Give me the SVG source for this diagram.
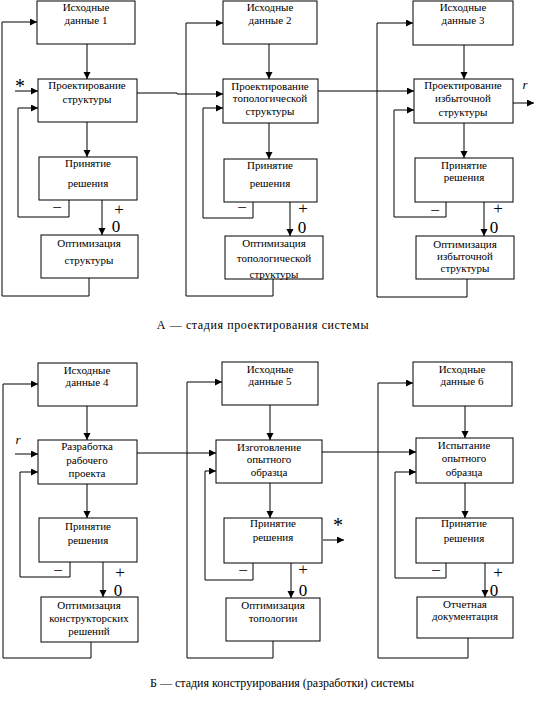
<svg xmlns="http://www.w3.org/2000/svg" width="542" height="701" viewBox="0 0 542 701">
<style>
.box{fill:#fff;stroke:#000;stroke-width:1}
.ln{fill:none;stroke:#000;stroke-width:1}
.ar{marker-end:url(#ah)}
text{font-family:"Liberation Serif","Times New Roman","DejaVu Serif",serif;fill:#000}
.t{font-size:11px;text-anchor:middle}
.s{font-size:17px;text-anchor:middle}
.z{font-size:17px;text-anchor:middle}
.st{font-size:20px;text-anchor:middle}
.cap{font-size:12px;text-anchor:middle}
.it{font-size:13px;font-style:italic;text-anchor:middle}
</style>
<defs>
<marker id="ah" markerUnits="userSpaceOnUse" markerWidth="8" markerHeight="8" refX="7" refY="3.5" orient="auto">
<path d="M0,0 L7,3.5 L0,7 z" fill="#000"/>
</marker>
</defs>
<rect width="542" height="701" fill="#fff"/>

<g id="connectors">
<path class="ln ar" d="M87,44 V79"/>
<path class="ln ar" d="M87,122 V157"/>
<path class="ln ar" d="M102,200 V235"/>
<path class="ln ar" d="M89,278 V296 H2 V22 H37"/>
<path class="ln ar" d="M69,200 V217 H18 V108 H38"/>
<path class="ln ar" d="M15,91 H38"/>
<path class="ln ar" d="M137,93 H177 V94 H223"/>
<path class="ln ar" d="M269,44 V79"/>
<path class="ln ar" d="M269,123 V159"/>
<path class="ln ar" d="M290,202 V236"/>
<path class="ln ar" d="M273,279 V296 H186 V23 H223"/>
<path class="ln ar" d="M253,202 V218 H203 V108 H223"/>
<path class="ln ar" d="M318,91 H414"/>
<path class="ln ar" d="M464,45 V79"/>
<path class="ln ar" d="M464,123 V158"/>
<path class="ln ar" d="M484,202 V236"/>
<path class="ln ar" d="M467,279 V297 H377 V23 H413"/>
<path class="ln ar" d="M446,202 V217 H394 V110 H414"/>
<path class="ln ar" d="M513,103 H534"/>
<path class="ln ar" d="M87,406 V440"/>
<path class="ln ar" d="M87,484 V518"/>
<path class="ln ar" d="M103,562 V597"/>
<path class="ln ar" d="M91,642 V658 H3 V384 H38"/>
<path class="ln ar" d="M70,562 V577 H20 V472 H38"/>
<path class="ln ar" d="M15,454 H38"/>
<path class="ln ar" d="M137,453 H216"/>
<path class="ln ar" d="M270,405 V440"/>
<path class="ln ar" d="M270,483 V518"/>
<path class="ln ar" d="M291,563 V598"/>
<path class="ln ar" d="M273,641 V658 H187 V382 H222"/>
<path class="ln ar" d="M253,563 V580 H205 V471 H216"/>
<path class="ln ar" d="M322,452 H416"/>
<path class="ln ar" d="M323,540 H344"/>
<path class="ln ar" d="M465,406 V438"/>
<path class="ln ar" d="M465,483 V518"/>
<path class="ln ar" d="M485,563 V597"/>
<path class="ln ar" d="M468,638 V658 H378 V383 H413"/>
<path class="ln ar" d="M446,563 V578 H395 V472 H416"/>
</g>

<g id="labels">
<text class="st" x="20" y="93">*</text>
<text class="s" x="57" y="213">−</text>
<text class="s" x="119" y="215">+</text>
<text class="z" x="116" y="232">0</text>
<text class="s" x="242" y="213">−</text>
<text class="s" x="303" y="214">+</text>
<text class="z" x="302" y="233">0</text>
<text class="s" x="435" y="216">−</text>
<text class="s" x="498" y="214">+</text>
<text class="z" x="494" y="233">0</text>
<text class="it" x="525" y="89">r</text>
<text class="it" x="18" y="444">r</text>
<text class="s" x="58" y="576">−</text>
<text class="s" x="120" y="578">+</text>
<text class="z" x="118" y="596">0</text>
<text class="s" x="243" y="576">−</text>
<text class="s" x="303" y="575">+</text>
<text class="z" x="303" y="596">0</text>
<text class="st" x="338" y="532">*</text>
<text class="s" x="436" y="576">−</text>
<text class="s" x="498" y="578">+</text>
<text class="z" x="494" y="596">0</text>
</g>

<g id="n1"><rect class="box" x="37" y="1" width="98" height="43"/><text class="t" x="86" y="11">Исходные</text><text class="t" x="86" y="24">данные 1</text></g>
<g id="n2"><rect class="box" x="38" y="79" width="99" height="43"/><text class="t" x="87" y="89">Проектирование</text><text class="t" x="87" y="103">структуры</text></g>
<g id="n3"><rect class="box" x="39" y="157" width="98" height="43"/><text class="t" x="88" y="167">Принятие</text><text class="t" x="88" y="187">решения</text></g>
<g id="n4"><rect class="box" x="41" y="235" width="97" height="43"/><text class="t" x="89" y="247">Оптимизация</text><text class="t" x="89" y="264">структуры</text></g>

<g id="n5"><rect class="box" x="223" y="1" width="94" height="43"/><text class="t" x="270" y="11">Исходные</text><text class="t" x="270" y="24">данные 2</text></g>
<g id="n6"><rect class="box" x="223" y="79" width="95" height="44"/><text class="t" x="270" y="90">Проектирование</text><text class="t" x="270" y="102">топологической</text><text class="t" x="270" y="115">структуры</text></g>
<g id="n7"><rect class="box" x="224" y="159" width="93" height="43"/><text class="t" x="270" y="169">Принятие</text><text class="t" x="270" y="187">решения</text></g>
<g id="n8"><rect class="box" x="225" y="236" width="98" height="43"/><text class="t" x="274" y="247">Оптимизация</text><text class="t" x="274" y="262">топологической</text><text class="t" x="274" y="278">структуры</text></g>

<g id="n9"><rect class="box" x="413" y="1" width="100" height="44"/><text class="t" x="463" y="11">Исходные</text><text class="t" x="463" y="24">данные 3</text></g>
<g id="n10"><rect class="box" x="414" y="79" width="99" height="44"/><text class="t" x="463" y="89">Проектирование</text><text class="t" x="463" y="102">избыточной</text><text class="t" x="463" y="116">структуры</text></g>
<g id="n11"><rect class="box" x="415" y="158" width="98" height="44"/><text class="t" x="464" y="169">Принятие</text><text class="t" x="464" y="181">решения</text></g>
<g id="n12"><rect class="box" x="416" y="236" width="98" height="43"/><text class="t" x="465" y="248">Оптимизация</text><text class="t" x="465" y="260">избыточной</text><text class="t" x="465" y="272">структуры</text></g>

<text class="cap" x="263" y="329" letter-spacing="0.6">А — стадия проектирования системы</text>

<g id="n13"><rect class="box" x="38" y="363" width="99" height="43"/><text class="t" x="87" y="374">Исходные</text><text class="t" x="87" y="386">данные 4</text></g>
<g id="n14"><rect class="box" x="38" y="440" width="99" height="44"/><text class="t" x="87" y="450">Разработка</text><text class="t" x="87" y="464">рабочего</text><text class="t" x="87" y="477">проекта</text></g>
<g id="n15"><rect class="box" x="39" y="518" width="98" height="44"/><text class="t" x="88" y="530">Принятие</text><text class="t" x="88" y="544">решения</text></g>
<g id="n16"><rect class="box" x="41" y="597" width="97" height="45"/><text class="t" x="89" y="609">Оптимизация</text><text class="t" x="89" y="622">конструкторских</text><text class="t" x="89" y="635">решений</text></g>

<g id="n17"><rect class="box" x="222" y="362" width="96" height="43"/><text class="t" x="270" y="373">Исходные</text><text class="t" x="270" y="385">данные 5</text></g>
<g id="n18"><rect class="box" x="216" y="440" width="106" height="43"/><text class="t" x="269" y="451">Изготовление</text><text class="t" x="269" y="463">опытного</text><text class="t" x="269" y="476">образца</text></g>
<g id="n19"><rect class="box" x="224" y="518" width="98" height="45"/><text class="t" x="273" y="527">Принятие</text><text class="t" x="273" y="541">решения</text></g>
<g id="n20"><rect class="box" x="226" y="598" width="94" height="43"/><text class="t" x="273" y="609">Оптимизация</text><text class="t" x="273" y="622">топологии</text></g>

<g id="n21"><rect class="box" x="413" y="362" width="99" height="44"/><text class="t" x="462" y="373">Исходные</text><text class="t" x="462" y="385">данные 6</text></g>
<g id="n22"><rect class="box" x="416" y="438" width="97" height="45"/><text class="t" x="464" y="449">Испытание</text><text class="t" x="464" y="462">опытного</text><text class="t" x="464" y="476">образца</text></g>
<g id="n23"><rect class="box" x="416" y="518" width="97" height="45"/><text class="t" x="464" y="527">Принятие</text><text class="t" x="464" y="542">решения</text></g>
<g id="n24"><rect class="box" x="417" y="597" width="96" height="41"/><text class="t" x="465" y="608">Отчетная</text><text class="t" x="465" y="620">документация</text></g>

<text class="cap" x="282" y="687">Б — стадия конструирования (разработки)  системы</text>
</svg>
